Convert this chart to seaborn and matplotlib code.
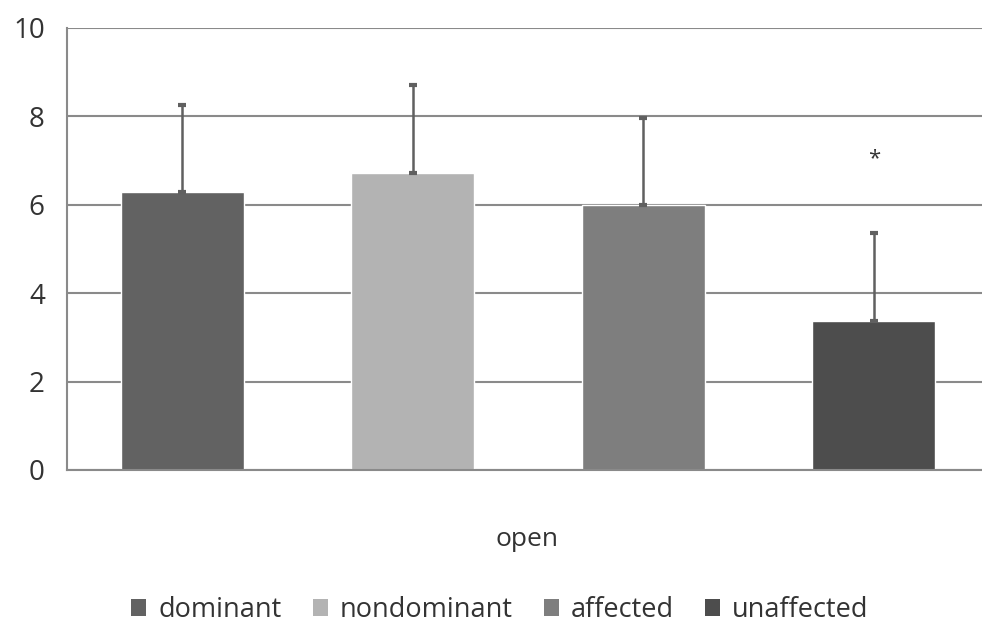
import matplotlib
matplotlib.use("Agg")
import matplotlib.pyplot as plt
import seaborn as sns
import pandas as pd
from matplotlib.patches import Patch

categories = ["dominant", "nondominant", "affected", "unaffected"]
means = [6.28, 6.72, 6.0, 3.38]
errors = [1.97, 1.98, 1.96, 1.98]
colors = ["#626262", "#b3b3b3", "#7e7e7e", "#4d4d4d"]
group_label = "open"
yticks = [0, 2, 4, 6, 8, 10]

sns.set_theme(style="white")
plt.rcParams['font.family'] = ['Open Sans', 'DejaVu Sans']

df = pd.DataFrame({"group": categories, "value": means})

fig = plt.figure(figsize=(9.82, 6.36), dpi=100)
ax = fig.add_axes([67/982, 166/636, 922/982, 442/636])

sns.barplot(data=df, x="group", y="value", hue="group", palette=colors,
            order=categories, hue_order=categories, dodge=False,
            width=0.535, errorbar=None, legend=False, ax=ax, saturation=1)

for i, (m, e) in enumerate(zip(means, errors)):
    ax.errorbar(i, m, yerr=[[0], [e]], color="#606060", elinewidth=1.8,
                capsize=3, capthick=3, zorder=3)

ax.text(3, 7.05, "*", ha="center", va="center", fontsize=16, color="#333333")

ax.set_ylim(0, 10)
ax.set_xlim(-0.5, 3.5)
ax.set_yticks(yticks)
ax.set_yticklabels([str(t) for t in yticks], fontsize=20, color="#333333")
ax.yaxis.grid(True, color="#8a8a8a", linewidth=1.5)
ax.set_axisbelow(True)
ax.set_xticks([])
ax.set_xlabel("")
ax.set_ylabel("")
ax.tick_params(axis="y", length=0, pad=16)
for s in ["top", "right"]:
    ax.spines[s].set_visible(False)
for s in ["left", "bottom"]:
    ax.spines[s].set_color("#8a8a8a")
    ax.spines[s].set_linewidth(1.5)

fig.text(527/982, 1 - 540/636, group_label, ha="center", va="center",
         fontsize=19, color="#333333")

handles = [Patch(facecolor=c, edgecolor="none") for c in colors]
fig.legend(handles, categories, loc="center", bbox_to_anchor=(500/982, 1 - 610/636),
           ncol=4, frameon=False, fontsize=19.5, handlelength=0.55, handleheight=0.6,
           handletextpad=0.45, columnspacing=1.15, labelcolor="#333333")

fig.savefig("out.png", dpi=100, facecolor="white")
